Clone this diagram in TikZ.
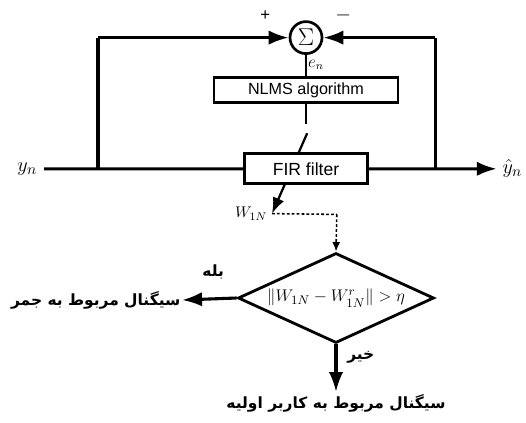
\documentclass[tikz,border=0pt]{standalone}
\usepackage{amsmath}
\usepackage{amssymb}
\usepackage{fontspec}
\setsansfont{Liberation Sans}
\newfontfamily\arabicfont[Script=Arabic]{DejaVu Sans}
\TeXXeTstate=1
\usepackage{tikz}
\usetikzlibrary{shapes,arrows.meta,positioning,calc}
\tikzstyle{block} = [draw, fill=white, rectangle, line width=1.9pt, font=\sffamily\fontsize{11.5}{13}\selectfont]
\tikzstyle{sum} = [draw, fill=white, circle, line width=1.9pt, minimum size=0.8cm, inner sep=0pt, font=\fontsize{16}{18}\selectfont]
\tikzstyle{decision} = [draw, diamond, aspect=2.2, line width=2pt, minimum width=4.9cm, minimum height=2.25cm, inner sep=0pt, font=\fontsize{13}{15}\selectfont]
\tikzstyle{input} = [coordinate]
\tikzstyle{output} = [coordinate]
\tikzstyle{fatext} = [font=\arabicfont\bfseries\fontsize{11}{13}\selectfont, inner sep=1pt]
\tikzstyle{sig} = [line width=2.2pt]
\tikzstyle{dots} = [line width=1.1pt, dash pattern=on 2pt off 1.5pt]
\newcommand{\fatxt}[1]{\beginR #1\endR}

\begin{document}
\begin{tikzpicture}[auto, node distance=2cm, >={Latex[length=5mm,width=3.6mm]}]
    \useasboundingbox (0,0) rectangle (13.15,-10.55);
    % Adaptive filter
    \node [sum] at (7.65,-0.94) (sum) {$\Sigma$};
    \node [block, below of=sum, node distance=1.31cm, minimum width=4.6cm, minimum height=0.6cm] (nlms) {NLMS algorithm};
    \coordinate (nlms_out) at ($(nlms.south)+(0,-0.52)$);
    \coordinate (tilt) at ($(nlms)+(0.03,-1.08)$);
    \coordinate (w_tip) at ($(nlms)+(-0.85,-3.09)$);
    \draw [->, line width=1.6pt, >={Latex[length=4mm,width=3mm]}] (tilt) -- (w_tip);
    \node [block, below of=nlms, node distance=1.97cm, minimum width=3.08cm, minimum height=0.75cm, font=\sffamily\fontsize{12.5}{14}\selectfont] (fir) {FIR filter};
    \node [input] at (1.1,-4.22) (input) {};
    \node [left=0.05cm of input, font=\fontsize{15}{17}\selectfont] (yn) {$y_n$};
    \node [coordinate] at (2.45,-4.22) (split) {};
    \node [coordinate] at (2.45,-0.94) (split_top) {};
    \node [coordinate] at (10.88,-4.22) (fb) {};
    \node [coordinate] at (10.88,-0.94) (fb_top) {};
    \node [output] at (12.42,-4.22) (output) {};
    \node [right=0.02cm of output, font=\fontsize{15}{17}\selectfont] (yhat) {$\hat{y}_n$};
    \node [font=\sffamily\fontsize{12}{14}\selectfont] at (6.63,-0.38) (plus) {+};
    \node [font=\fontsize{14}{16}\selectfont] at (8.58,-0.38) (minus) {$-$};
    \node [font=\fontsize{12}{14}\selectfont] at (7.9,-1.62) (en) {$e_n$};
    \node [left=0.0cm of w_tip, font=\fontsize{11}{13}\selectfont] (wlabel) {$W_{1N}$};
    \coordinate (w_corner) at (8.42,-5.36);

    % Decision
    \node [decision] at (8.4,-7.45) (check) {$\| W_{1N} - W^{r}_{1N} \| > \eta$};
    \node [output] at (4.55,-7.5) (jam) {};
    \node [fatext, left=0cm of jam] (jam_txt) {\fatxt{سیگنال مربوط به جمر}};
    \node [fatext] at (5.33,-6.8) (yes) {\fatxt{بله}};
    \node [output] at (8.4,-9.8) (pu) {};
    \node [fatext, below=0.02cm of pu] (pu_txt) {\fatxt{سیگنال مربوط به کاربر اولیه}};
    \node [fatext] at (9.02,-8.93) (no) {\fatxt{خیر}};

    % Connections
    \draw [sig] (input) -- (fir);
    \draw [sig, ->] (fir) -- (output);
    \draw [sig] (split) -- (split_top);
    \draw [sig, ->] (split_top) -- (sum);
    \draw [sig] (fb) -- (fb_top);
    \draw [sig, ->] (fb_top) -- (sum);
    \draw [line width=1.6pt] (sum) -- (nlms);
    \draw [line width=1.6pt] (nlms) -- (nlms_out);
    \draw [dots] (w_tip) -- (w_corner);
    \draw [->, dots, >={Latex[length=2.4mm,width=2mm]}] (w_corner) -- (check.north);
    \draw [sig, ->] (check.west) -- (jam);
    \draw [sig, ->] (check.south) -- (pu);
\end{tikzpicture}
\end{document}
